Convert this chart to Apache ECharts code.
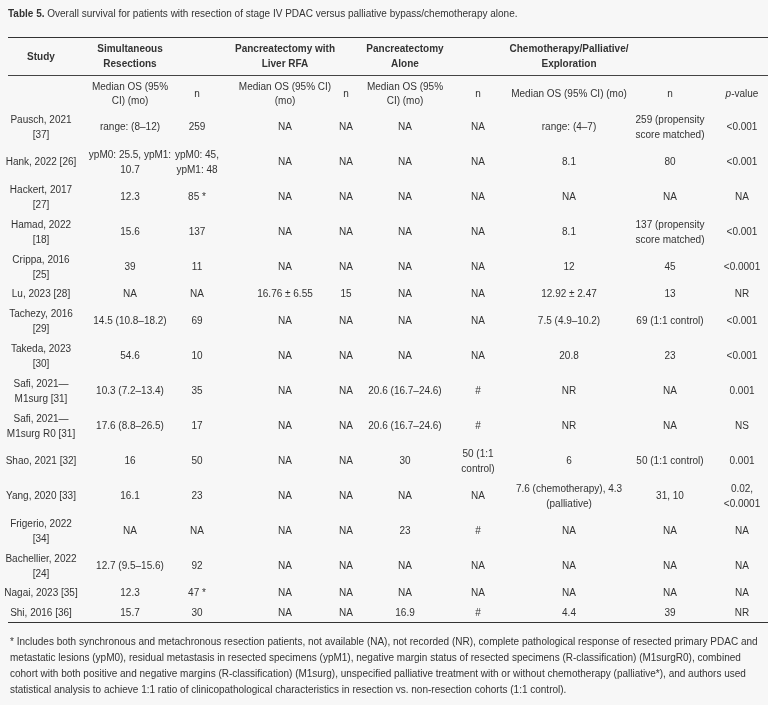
<!DOCTYPE html>
<html><head><meta charset="utf-8">
<script src="https://cdn.jsdelivr.net/npm/echarts@6/dist/echarts.min.js"></script>
<style>html,body{margin:0;padding:0;background:#f7f7f7}#c{width:768px;height:705px}</style>
</head><body><div id="c"></div>
<script>
var title = 'Overall survival for patients with resection of stage IV PDAC versus palliative bypass/chemotherapy alone.';
var groupHeaders = ['Study','Simultaneous\nResections','','Pancreatectomy with\nLiver RFA','','Pancreatectomy\nAlone','','Chemotherapy/Palliative/\nExploration','',''];
var subHeaders = ['','Median OS (95%\nCI) (mo)','n','Median OS (95% CI)\n(mo)','n','Median OS (95%\nCI) (mo)','n','Median OS (95% CI) (mo)','n','{i|p}-value'];
var studies = ['Pausch, 2021\n[37]','Hank, 2022 [26]','Hackert, 2017\n[27]','Hamad, 2022\n[18]','Crippa, 2016\n[25]','Lu, 2023 [28]','Tachezy, 2016\n[29]','Takeda, 2023\n[30]','Safi, 2021—\nM1surg [31]','Safi, 2021—\nM1surg R0 [31]','Shao, 2021 [32]','Yang, 2020 [33]','Frigerio, 2022\n[34]','Bachellier, 2022\n[24]','Nagai, 2023 [35]','Shi, 2016 [36]'];
var simMedian = ['range: (8–12)','ypM0: 25.5, ypM1:\n10.7','12.3','15.6','39','NA','14.5 (10.8–18.2)','54.6','10.3 (7.2–13.4)','17.6 (8.8–26.5)','16','16.1','NA','12.7 (9.5–15.6)','12.3','15.7'];
var simN = ['259','ypM0: 45,\nypM1: 48','85 *','137','11','NA','69','10','35','17','50','23','NA','92','47 *','30'];
var rfaMedian = ['NA','NA','NA','NA','NA','16.76 ± 6.55','NA','NA','NA','NA','NA','NA','NA','NA','NA','NA'];
var rfaN = ['NA','NA','NA','NA','NA','15','NA','NA','NA','NA','NA','NA','NA','NA','NA','NA'];
var aloneMedian = ['NA','NA','NA','NA','NA','NA','NA','NA','20.6 (16.7–24.6)','20.6 (16.7–24.6)','30','NA','23','NA','NA','16.9'];
var aloneN = ['NA','NA','NA','NA','NA','NA','NA','NA','#','#','50 (1:1\ncontrol)','NA','#','NA','NA','#'];
var chemoMedian = ['range: (4–7)','8.1','NA','8.1','12','12.92 ± 2.47','7.5 (4.9–10.2)','20.8','NR','NR','6','7.6 (chemotherapy), 4.3\n(palliative)','NA','NA','NA','4.4'];
var chemoN = ['259 (propensity\nscore matched)','80','NA','137 (propensity\nscore matched)','45','13','69 (1:1 control)','23','NA','NA','50 (1:1 control)','31, 10','NA','NA','NA','39'];
var pValue = ['<0.001','<0.001','NA','<0.001','<0.0001','NR','<0.001','<0.001','0.001','NS','0.001','0.02,\n<0.0001','NA','NA','NA','NR'];
var footnote = ['* Includes both synchronous and metachronous resection patients, not available (NA), not recorded (NR), complete pathological response of resected primary PDAC and',
'metastatic lesions (ypM0), residual metastasis in resected specimens (ypM1), negative margin status of resected specimens (R-classification) (M1surgR0), combined',
'cohort with both positive and negative margins (R-classification) (M1surg), unspecified palliative treatment with or without chemotherapy (palliative*), and authors used',
'statistical analysis to achieve 1:1 ratio of clinicopathological characteristics in resection vs. non-resection cohorts (1:1 control).'];

var colX = [41,130,197,285,346,405,478,569,670,742];
var cols = [studies,simMedian,simN,rfaMedian,rfaN,aloneMedian,aloneN,chemoMedian,chemoN,pValue];
var FONT = 'Liberation Sans, Arial, sans-serif', COL = '#333';
var els = [];
function txt(x,y,s,opt){opt=opt||{};els.push({type:'text',x:x,y:y,style:Object.assign({text:s,fill:COL,font:(opt.w||'normal')+' '+(opt.size||10)+'px '+FONT,align:opt.align||'center',verticalAlign:'middle',lineHeight:opt.lh||15,rich:{i:{fontStyle:'italic',fontSize:10,fontFamily:FONT,fill:COL}}},opt.st||{})});}
function line(y,w,c){els.push({type:'line',shape:{x1:8,y1:y,x2:768,y2:y},style:{stroke:c,lineWidth:w}});}
els.push({type:'text',x:8,y:14,style:{text:'{b|Table 5.} '+title,fill:COL,font:'normal 10px '+FONT,verticalAlign:'middle',rich:{b:{fontWeight:'bold',fontSize:10,fontFamily:FONT,fill:COL}}}});
line(37.5,1.2,'#333'); line(75.5,1,'#444'); line(622.5,1.2,'#333');
groupHeaders.forEach(function(h,i){ if(h) txt(colX[i],57,h,{w:'bold'}); });
subHeaders.forEach(function(h,i){ if(h) txt(colX[i],94,h,{lh:14}); });
var y=110;
for(var r=0;r<studies.length;r++){
  var two=cols.some(function(c){return c[r].indexOf('\n')>=0;});
  var hgt=two?35:19; if(r===studies.length-1) hgt=20;
  var cy=y+hgt/2;
  cols.forEach(function(c,i){txt(colX[i],cy,c[r]);});
  y+=hgt;
}
footnote.forEach(function(f,i){txt(10,642+i*16,f,{align:'left'});});
var chart=echarts.init(document.getElementById('c'));
chart.setOption({backgroundColor:'#f7f7f7',graphic:{elements:els}});
</script></body></html>
